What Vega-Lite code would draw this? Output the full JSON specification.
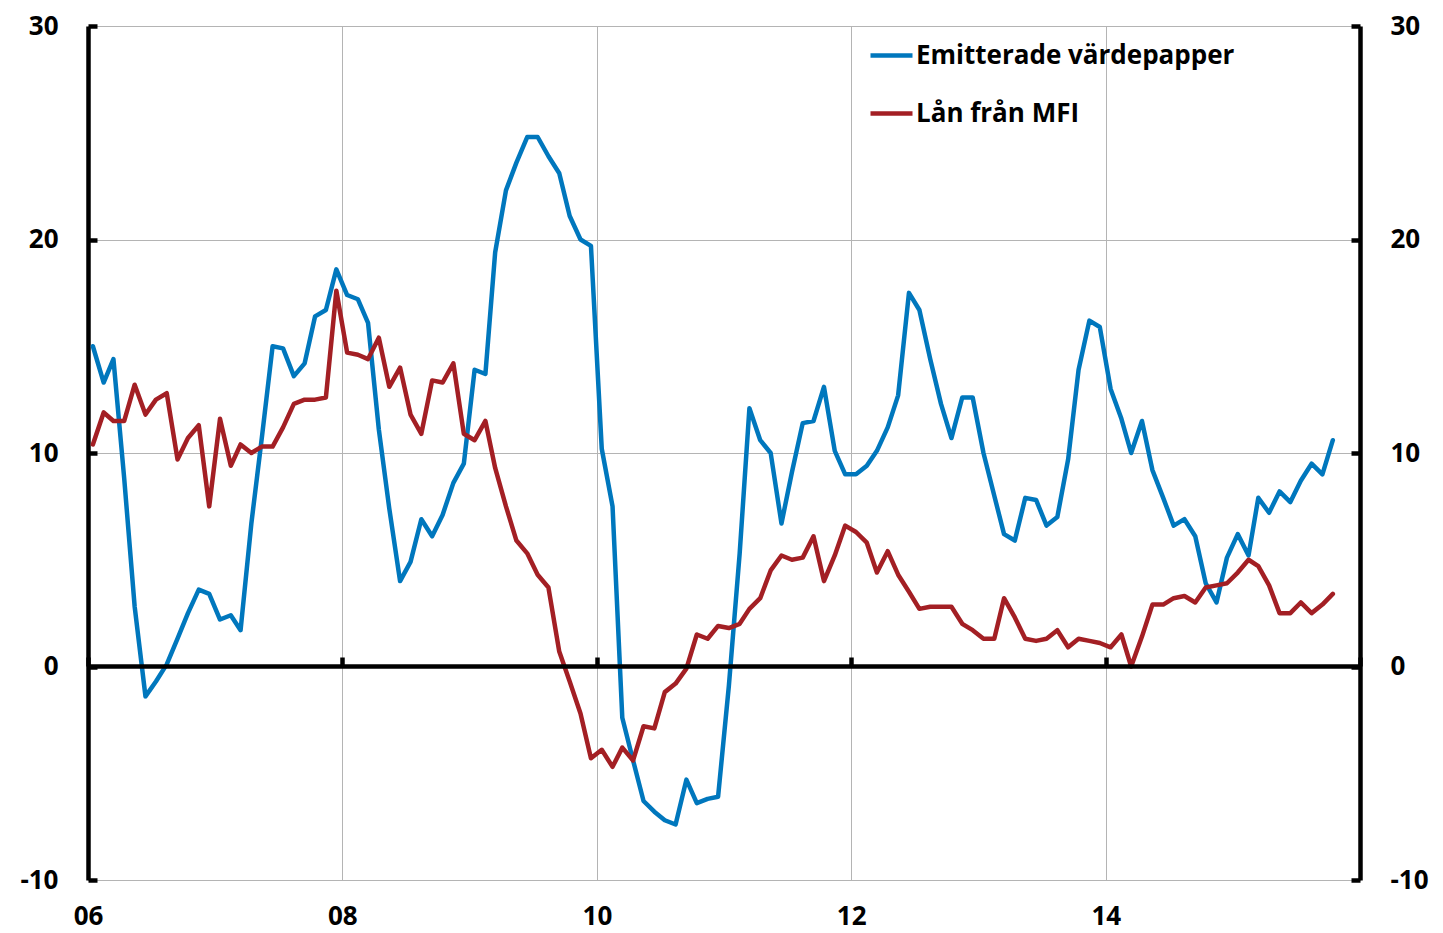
{
  "$schema": "https://vega.github.io/schema/vega-lite/v6.json",
  "width": 1272,
  "height": 854,
  "autosize": {"type": "none"},
  "padding": {"left": 88, "top": 26, "right": 83, "bottom": 53},
  "background": "white",
  "config": {"view": {"stroke": null}, "font": "Open Sans"},
  "data": {"values": [
    {"d":"2006-01-15","e":15.0,"l":10.4},{"d":"2006-02-15","e":13.3,"l":11.9},{"d":"2006-03-15","e":14.4,"l":11.5},{"d":"2006-04-15","e":8.8,"l":11.5},
    {"d":"2006-05-15","e":2.8,"l":13.2},{"d":"2006-06-15","e":-1.4,"l":11.8},{"d":"2006-07-15","e":-0.7,"l":12.5},{"d":"2006-08-15","e":0.1,"l":12.8},
    {"d":"2006-09-15","e":1.3,"l":9.7},{"d":"2006-10-15","e":2.5,"l":10.7},{"d":"2006-11-15","e":3.6,"l":11.3},{"d":"2006-12-15","e":3.4,"l":7.5},
    {"d":"2007-01-15","e":2.2,"l":11.6},{"d":"2007-02-15","e":2.4,"l":9.4},{"d":"2007-03-15","e":1.7,"l":10.4},{"d":"2007-04-15","e":6.7,"l":10.0},
    {"d":"2007-05-15","e":10.7,"l":10.3},{"d":"2007-06-15","e":15.0,"l":10.3},{"d":"2007-07-15","e":14.9,"l":11.2},{"d":"2007-08-15","e":13.6,"l":12.3},
    {"d":"2007-09-15","e":14.2,"l":12.5},{"d":"2007-10-15","e":16.4,"l":12.5},{"d":"2007-11-15","e":16.7,"l":12.6},{"d":"2007-12-15","e":18.6,"l":17.6},
    {"d":"2008-01-15","e":17.4,"l":14.7},{"d":"2008-02-15","e":17.2,"l":14.6},{"d":"2008-03-15","e":16.1,"l":14.4},{"d":"2008-04-15","e":11.1,"l":15.4},
    {"d":"2008-05-15","e":7.4,"l":13.1},{"d":"2008-06-15","e":4.0,"l":14.0},{"d":"2008-07-15","e":4.9,"l":11.8},{"d":"2008-08-15","e":6.9,"l":10.9},
    {"d":"2008-09-15","e":6.1,"l":13.4},{"d":"2008-10-15","e":7.1,"l":13.3},{"d":"2008-11-15","e":8.6,"l":14.2},{"d":"2008-12-15","e":9.5,"l":10.9},
    {"d":"2009-01-15","e":13.9,"l":10.6},{"d":"2009-02-15","e":13.7,"l":11.5},{"d":"2009-03-15","e":19.4,"l":9.3},{"d":"2009-04-15","e":22.3,"l":7.5},
    {"d":"2009-05-15","e":23.6,"l":5.9},{"d":"2009-06-15","e":24.8,"l":5.3},{"d":"2009-07-15","e":24.8,"l":4.3},{"d":"2009-08-15","e":23.9,"l":3.7},
    {"d":"2009-09-15","e":23.1,"l":0.7},{"d":"2009-10-15","e":21.1,"l":-0.7},{"d":"2009-11-15","e":20.0,"l":-2.2},{"d":"2009-12-15","e":19.7,"l":-4.3},
    {"d":"2010-01-15","e":10.2,"l":-3.9},{"d":"2010-02-15","e":7.5,"l":-4.7},{"d":"2010-03-15","e":-2.4,"l":-3.8},{"d":"2010-04-15","e":-4.4,"l":-4.4},
    {"d":"2010-05-15","e":-6.3,"l":-2.8},{"d":"2010-06-15","e":-6.8,"l":-2.9},{"d":"2010-07-15","e":-7.2,"l":-1.2},{"d":"2010-08-15","e":-7.4,"l":-0.8},
    {"d":"2010-09-15","e":-5.3,"l":-0.1},{"d":"2010-10-15","e":-6.4,"l":1.5},{"d":"2010-11-15","e":-6.2,"l":1.3},{"d":"2010-12-15","e":-6.1,"l":1.9},
    {"d":"2011-01-15","e":-0.9,"l":1.8},{"d":"2011-02-15","e":5.3,"l":2.0},{"d":"2011-03-15","e":12.1,"l":2.7},{"d":"2011-04-15","e":10.6,"l":3.2},
    {"d":"2011-05-15","e":10.0,"l":4.5},{"d":"2011-06-15","e":6.7,"l":5.2},{"d":"2011-07-15","e":9.1,"l":5.0},{"d":"2011-08-15","e":11.4,"l":5.1},
    {"d":"2011-09-15","e":11.5,"l":6.1},{"d":"2011-10-15","e":13.1,"l":4.0},{"d":"2011-11-15","e":10.1,"l":5.2},{"d":"2011-12-15","e":9.0,"l":6.6},
    {"d":"2012-01-15","e":9.0,"l":6.3},{"d":"2012-02-15","e":9.4,"l":5.8},{"d":"2012-03-15","e":10.1,"l":4.4},{"d":"2012-04-15","e":11.2,"l":5.4},
    {"d":"2012-05-15","e":12.7,"l":4.3},{"d":"2012-06-15","e":17.5,"l":3.5},{"d":"2012-07-15","e":16.7,"l":2.7},{"d":"2012-08-15","e":14.4,"l":2.8},
    {"d":"2012-09-15","e":12.3,"l":2.8},{"d":"2012-10-15","e":10.7,"l":2.8},{"d":"2012-11-15","e":12.6,"l":2.0},{"d":"2012-12-15","e":12.6,"l":1.7},
    {"d":"2013-01-15","e":10.0,"l":1.3},{"d":"2013-02-15","e":8.0,"l":1.3},{"d":"2013-03-15","e":6.2,"l":3.2},{"d":"2013-04-15","e":5.9,"l":2.3},
    {"d":"2013-05-15","e":7.9,"l":1.3},{"d":"2013-06-15","e":7.8,"l":1.2},{"d":"2013-07-15","e":6.6,"l":1.3},{"d":"2013-08-15","e":7.0,"l":1.7},
    {"d":"2013-09-15","e":9.7,"l":0.9},{"d":"2013-10-15","e":13.9,"l":1.3},{"d":"2013-11-15","e":16.2,"l":1.2},{"d":"2013-12-15","e":15.9,"l":1.1},
    {"d":"2014-01-15","e":13.0,"l":0.9},{"d":"2014-02-15","e":11.6,"l":1.5},{"d":"2014-03-15","e":10.0,"l":0.0},{"d":"2014-04-15","e":11.5,"l":1.4},
    {"d":"2014-05-15","e":9.2,"l":2.9},{"d":"2014-06-15","e":7.9,"l":2.9},{"d":"2014-07-15","e":6.6,"l":3.2},{"d":"2014-08-15","e":6.9,"l":3.3},
    {"d":"2014-09-15","e":6.1,"l":3.0},{"d":"2014-10-15","e":3.9,"l":3.7},{"d":"2014-11-15","e":3.0,"l":3.8},{"d":"2014-12-15","e":5.1,"l":3.9},
    {"d":"2015-01-15","e":6.2,"l":4.4},{"d":"2015-02-15","e":5.2,"l":5.0},{"d":"2015-03-15","e":7.9,"l":4.7},{"d":"2015-04-15","e":7.2,"l":3.8},
    {"d":"2015-05-15","e":8.2,"l":2.5},{"d":"2015-06-15","e":7.7,"l":2.5},{"d":"2015-07-15","e":8.7,"l":3.0},{"d":"2015-08-15","e":9.5,"l":2.5},
    {"d":"2015-09-15","e":9.0,"l":2.9},{"d":"2015-10-15","e":10.6,"l":3.4}
  ]},
  "resolve": {"axis": {"x": "independent", "y": "independent"}, "scale": {"x": "shared", "y": "shared", "color": "shared"}},
  "layer": [
    {
      "mark": {"type": "line", "strokeWidth": 4.5, "strokeJoin": "round", "strokeCap": "round"},
      "encoding": {
        "x": {
          "field": "d", "type": "temporal",
          "scale": {"type": "utc", "domain": [{"year": 2006, "month": 1, "date": 1, "utc": true}, {"year": 2016, "month": 1, "date": 1, "utc": true}]},
          "axis": {
            "orient": "bottom", "title": null, "format": "%y", "tickCount": {"interval": "year", "step": 2},
            "labelExpr": "utcyear(datum.value) >= 2016 ? '' : datum.label",
            "grid": true, "gridColor": "#b4b4b4", "gridWidth": 1, "domain": false, "ticks": false,
            "labelFont": "Open Sans", "labelFontWeight": "bold", "labelFontSize": 26, "labelColor": "#000000",
            "labelPadding": 23, "labelFlush": false, "labelOverlap": false, "zindex": 0
          }
        },
        "y": {
          "field": "e", "type": "quantitative",
          "scale": {"domain": [-10, 30], "nice": false, "zero": false},
          "axis": {
            "orient": "left", "title": null, "values": [-10, 0, 10, 20, 30],
            "labelExpr": "'' + datum.value",
            "grid": true, "gridColor": "#b4b4b4", "gridWidth": 1,
            "domain": true, "domainColor": "#000000", "domainWidth": 4.5,
            "ticks": true, "tickColor": "#000000", "tickWidth": 4.5, "tickSize": -9,
            "labelFont": "Open Sans", "labelFontWeight": "bold", "labelFontSize": 26, "labelColor": "#000000",
            "labelPadding": 39, "zindex": 0
          }
        },
        "color": {
          "datum": "Emitterade värdepapper", "type": "nominal",
          "scale": {"domain": ["Emitterade värdepapper", "Lån från MFI"], "range": ["#0077bd", "#a31f24"]},
          "legend": {
            "orient": "none", "legendX": 780, "legendY": 6, "title": null, "padding": 0,
            "symbolType": "stroke", "symbolSize": 1764, "symbolStrokeWidth": 4.5,
            "labelFont": "Open Sans", "labelFontWeight": "bold", "labelFontSize": 26, "labelColor": "#000000",
            "labelOffset": 1, "rowPadding": 21, "labelLimit": 600
          }
        }
      }
    },
    {
      "mark": {"type": "line", "strokeWidth": 4.5, "strokeJoin": "round", "strokeCap": "round"},
      "encoding": {
        "x": {
          "field": "d", "type": "temporal",
          "axis": {
            "orient": "bottom", "title": null, "offset": -214, "tickCount": {"interval": "year", "step": 2},
            "grid": false, "labels": false,
            "domain": true, "domainColor": "#000000", "domainWidth": 4.5,
            "ticks": true, "tickColor": "#000000", "tickWidth": 4.5, "tickSize": -9, "zindex": 1
          }
        },
        "y": {
          "field": "l", "type": "quantitative",
          "axis": {
            "orient": "right", "title": null, "values": [-10, 0, 10, 20, 30], "grid": false,
            "labelExpr": "'' + datum.value",
            "domain": true, "domainColor": "#000000", "domainWidth": 4.5,
            "ticks": true, "tickColor": "#000000", "tickWidth": 4.5, "tickSize": -9,
            "labelFont": "Open Sans", "labelFontWeight": "bold", "labelFontSize": 26, "labelColor": "#000000",
            "labelPadding": 39, "zindex": 1
          }
        },
        "color": {"datum": "Lån från MFI", "type": "nominal"}
      }
    }
  ]
}
